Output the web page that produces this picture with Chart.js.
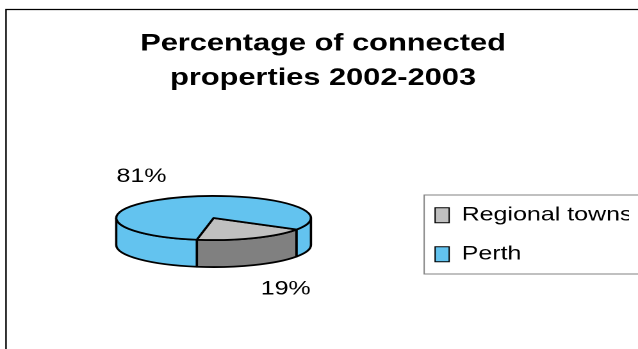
<!DOCTYPE html>
<html>
<head>
<meta charset="utf-8">
<script src="https://cdn.jsdelivr.net/npm/chart.js@4.4.1/dist/chart.umd.min.js"></script>
<style>
  html, body { margin: 0; padding: 0; background: #fff; }
</style>
</head>
<body>
<!-- drawn at 498 wide and shown at 638, which gives the wide text of the original -->
<canvas id="chart" width="498" height="349" style="display:block;width:638px;height:349px"></canvas>
<script>
const categories = ['Regional towns', 'Perth'];
const shares = [19, 81];
const titleLines = ['Percentage of connected', 'properties 2002-2003'];

const TOP_COLORS = ['#C0C0C0', '#63C3EF'];
const SIDE_COLORS = ['#808080', '#63C3EF'];
const TILT = 0.29;     // vertical squash of the pie
const DEPTH = 27;      // thickness of the disc
const TAU = Math.PI * 2;

Chart.defaults.font.family = '"Liberation Sans", Arial, sans-serif';
Chart.defaults.color = '#000';

// parts of [s, e] that sit on the front half of the rim
function frontSpans(s, e) {
    const off = Math.floor(s / TAU) * TAU;
    s -= off;
    e -= off;
    const spans = [];
    [0, TAU].forEach(base => {
        const a = Math.max(s, base);
        const b = Math.min(e, base + Math.PI);
        if (b > a) spans.push([a, b]);
    });
    return spans;
}

const pie3d = {
    id: 'pie3d',
    beforeDatasetsDraw(chart) {
        const ctx = chart.ctx;
        const arcs = chart.getDatasetMeta(0).data;
        const values = chart.data.datasets[0].data;
        const props = arcs.map(a => a.getProps(['x', 'y', 'startAngle', 'endAngle', 'outerRadius'], true));

        ctx.save();
        ctx.lineWidth = 1.8;
        ctx.strokeStyle = '#000';
        ctx.lineJoin = 'round';

        // rim walls
        props.forEach((p, i) => {
            const ry = p.outerRadius * TILT;
            frontSpans(p.startAngle, p.endAngle).forEach(([a, b]) => {
                ctx.beginPath();
                ctx.ellipse(p.x, p.y, p.outerRadius, ry, 0, a, b);
                ctx.ellipse(p.x, p.y + DEPTH, p.outerRadius, ry, 0, b, a, true);
                ctx.closePath();
                ctx.fillStyle = SIDE_COLORS[i];
                ctx.fill();
                ctx.stroke();
            });
        });

        // top faces
        props.forEach((p, i) => {
            const ry = p.outerRadius * TILT;
            ctx.beginPath();
            ctx.moveTo(p.x, p.y);
            ctx.ellipse(p.x, p.y, p.outerRadius, ry, 0, p.startAngle, p.endAngle);
            ctx.closePath();
            ctx.fillStyle = TOP_COLORS[i];
            ctx.fill();
            ctx.stroke();
        });

        // percentage labels outside the slices
        ctx.fillStyle = '#000';
        ctx.font = '19.5px "Liberation Sans", Arial, sans-serif';
        ctx.textAlign = 'center';
        ctx.textBaseline = 'middle';
        props.forEach((p, i) => {
            const mid = (p.startAngle + p.endAngle) / 2;
            const ry = p.outerRadius * TILT;
            const below = Math.sin(mid) > 0;
            const lx = p.x + 1.8 * p.outerRadius * Math.cos(mid);
            const ly = p.y + (below ? 2.2 : 2.05) * ry * Math.sin(mid) + (below ? DEPTH : 0);
            ctx.fillText(values[i] + '%', lx, ly);
        });

        ctx.restore();
        return false;
    },
    afterDraw(chart) {
        const ctx = chart.ctx;
        const lg = chart.legend;
        const hb = lg.legendHitBoxes;
        const last = hb[hb.length - 1];
        ctx.save();

        // legend frame, open on the right
        ctx.strokeStyle = '#808080';
        ctx.lineWidth = 1;
        const fx = lg.left + 11;
        const fy = hb[0].top - 10.5;
        const fb = last.top + last.height + 10;
        ctx.beginPath();
        ctx.moveTo(chart.width + 2, fy);
        ctx.lineTo(fx, fy);
        ctx.lineTo(fx, fb);
        ctx.lineTo(chart.width + 2, fb);
        ctx.stroke();

        // chart frame
        ctx.strokeStyle = '#000';
        ctx.lineWidth = 1.2;
        ctx.beginPath();
        ctx.moveTo(4.7, chart.height + 2);
        ctx.lineTo(4.7, 9.5);
        ctx.lineTo(chart.width + 2, 9.5);
        ctx.stroke();

        ctx.restore();
    }
};

new Chart(document.getElementById('chart'), {
    type: 'pie',
    data: {
        labels: categories,
        datasets: [{
            data: shares,
            backgroundColor: TOP_COLORS,
            borderColor: '#000',
            borderWidth: 1,
            radius: 76
        }]
    },
    options: {
        responsive: false,
        devicePixelRatio: 2,
        animation: false,
        events: [],
        rotation: 121.5,
        layout: { padding: { left: 13.3, right: 7, top: 0, bottom: 18.9 } },
        plugins: {
            title: {
                display: true,
                text: titleLines,
                color: '#000',
                font: { size: 24, weight: 'bold', lineHeight: 1.45 },
                padding: { top: 26.3, bottom: 10 }
            },
            legend: {
                position: 'right',
                fullSize: false,
                maxWidth: 170.9,
                title: { display: true, text: ' ', padding: 16.25, font: { size: 1, lineHeight: 1 } },
                labels: {
                    color: '#000',
                    font: { size: 19.5 },
                    boxWidth: 11,
                    boxHeight: 15,
                    padding: 19.5
                }
            },
            tooltip: { enabled: false }
        }
    },
    plugins: [pie3d]
});
</script>
</body>
</html>
